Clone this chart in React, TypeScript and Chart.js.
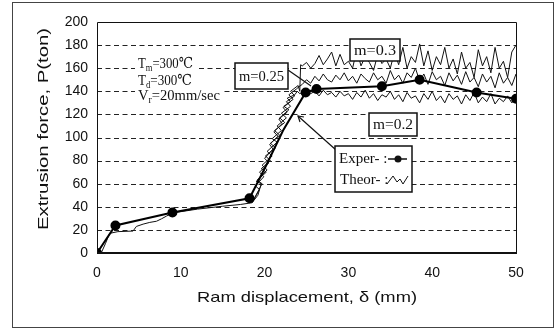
import React, { useEffect, useRef } from "react";
import { Chart, registerables } from "chart.js";

Chart.register(...registerables);

// ---------- data ----------
const yTickValues = [0, 20, 40, 60, 80, 100, 120, 140, 160, 180, 200];
const xTickValues = [0, 10, 20, 30, 40, 50];

const experX = [0, 2.2, 9.0, 18.2, 20.2, 22.2, 24.9, 26.2, 34.0, 38.5, 45.3, 50.0];
const experY = [0, 23.8, 35, 47.4, 76, 106, 139, 142, 144.4, 150, 139, 133.5];
const experMarker = [1, 1, 1, 1, 0, 0, 1, 1, 1, 1, 1, 1];

const theorBaseX = [0.5, 1.0, 1.5, 2.5, 4.3, 4.7, 5.5, 6.3, 7.1, 7.7, 8.3, 9.1, 12, 15, 17.1, 18.5];
const theorBaseY = [0, 8, 17, 18.5, 19, 23, 25, 26.5, 27.5, 29.6, 32, 34.8, 38, 40.5, 42, 43.5];

const m02RiseX = [18.5, 19.4, 18.9, 19.9, 19.4, 20.5, 20.0, 21.0, 20.6, 21.6, 21.1, 22.1, 21.7, 22.7, 22.2, 23.1, 22.7, 23.6, 23.9, 24.2];
const m02RiseY = [43.5, 55, 58, 66, 70, 78, 82, 90, 94, 101, 105, 112, 116, 122, 126, 131, 134, 137, 140, 138];
const m025RiseX = [18.5, 19.2, 19.6, 19.0, 20.2, 19.6, 20.7, 20.1, 21.3, 20.7, 21.8, 21.2, 22.4, 21.8, 22.9, 22.3, 23.4, 22.9, 23.8, 24.1];
const m025RiseY = [43.5, 50, 60, 62, 70, 73, 80, 84, 91, 95, 102, 106, 113, 117, 124, 127, 133, 137, 142, 144];
const m03RiseX = [18.5, 19.7, 19.1, 20.3, 19.7, 20.9, 20.3, 21.5, 20.9, 22.0, 21.5, 22.6, 22.0, 23.1, 22.6, 23.6, 23.1, 24.0, 24.2, 24.3];
const m03RiseY = [43.5, 60, 63, 72, 76, 84, 88, 96, 99, 106, 110, 117, 121, 127, 131, 136, 140, 145, 140, 163];

const noiseX = [24.5, 25, 25.5, 26, 26.5, 27, 27.5, 28, 28.5, 29, 29.5, 30, 30.5, 31, 31.5, 32, 32.5, 33, 33.5, 34, 34.5, 35, 35.5, 36, 36.5, 37, 37.5, 38, 38.5, 39, 39.5, 40, 40.5, 41, 41.5, 42, 42.5, 43, 43.5, 44, 44.5, 45, 45.5, 46, 46.5, 47, 47.5, 48, 48.5, 49, 49.5, 50];
const m03Y = [162, 165, 160, 164, 171, 163, 168, 174, 162, 172, 163, 166, 160, 176, 162, 170, 165, 158, 172, 164, 168, 160, 174, 163, 178, 160, 170, 165, 181, 162, 175, 158, 170, 163, 178, 160, 168, 155, 174, 160, 165, 152, 176, 162, 170, 156, 178, 160, 166, 152, 174, 180];
const m025Y = [146, 150, 147, 153, 149, 155, 150, 148, 154, 150, 156, 149, 153, 147, 155, 151, 148, 156, 150, 153, 147, 158, 150, 154, 147, 156, 152, 160, 149, 155, 146, 157, 150, 153, 145, 156, 149, 154, 146, 157, 148, 152, 144, 155, 148, 153, 143, 156, 147, 152, 145, 155];
const m02Y = [139, 141, 138, 140, 136, 141, 137, 139, 135, 140, 136, 138, 133, 139, 135, 141, 134, 138, 132, 137, 135, 140, 133, 137, 131, 139, 134, 136, 130, 138, 133, 140, 132, 136, 130, 138, 133, 136, 129, 137, 132, 139, 130, 135, 131, 138, 129, 134, 131, 136, 130, 134];

const annotationLines = [
  { main: "T", sub: "m", rest: "=300℃" },
  { main: "T", sub: "d", rest: "=300℃" },
  { main: "V", sub: "r", rest: "=20mm/sec" },
];
const curveLabels = ["m=0.25", "m=0.3", "m=0.2"];
const legendLabels = ["Exper- :", "Theor- :"];
const yTitle = "Extrusion force, P(ton)";
const xTitle = "Ram displacement, δ (mm)";

// ---------- helpers ----------
const pts = (xs: number[], ys: number[]) => xs.map((x, i) => ({ x, y: ys[i] }));
const SANS = "'Liberation Sans', Arial, sans-serif";
const SERIF = "'Liberation Serif', 'Times New Roman', 'DejaVu Serif', serif";

function fitText(ctx: CanvasRenderingContext2D, text: string, cx: number, cy: number, w: number, font: string) {
  ctx.save();
  ctx.font = font;
  ctx.textAlign = "center";
  ctx.textBaseline = "middle";
  const m = ctx.measureText(text).width;
  ctx.translate(cx, cy);
  ctx.scale(w / m, 1);
  ctx.fillText(text, 0, 0);
  ctx.restore();
}

function drawSubText(ctx: CanvasRenderingContext2D, line: { main: string; sub: string; rest: string }, x: number, baseline: number, w: number) {
  ctx.save();
  const f1 = `15px ${SERIF}`;
  const f2 = `10px ${SERIF}`;
  ctx.font = f1;
  const w1 = ctx.measureText(line.main).width;
  const w3 = ctx.measureText(line.rest).width;
  ctx.font = f2;
  const w2 = ctx.measureText(line.sub).width;
  const total = w1 + w2 + w3;
  const s = w / total;
  ctx.fillStyle = "#fff";
  ctx.fillRect(x - 3, baseline - 12, w + 6, 16);
  ctx.translate(x, baseline);
  ctx.scale(s, 1);
  ctx.fillStyle = "#111";
  ctx.textBaseline = "alphabetic";
  ctx.textAlign = "left";
  ctx.font = f1;
  ctx.fillText(line.main, 0, 0);
  ctx.font = f2;
  ctx.fillText(line.sub, w1, 3);
  ctx.font = f1;
  ctx.fillText(line.rest, w1 + w2, 0);
  ctx.restore();
}

function boxLabel(ctx: CanvasRenderingContext2D, text: string, x0: number, y0: number, x1: number, y1: number) {
  ctx.save();
  ctx.fillStyle = "#fff";
  ctx.fillRect(x0, y0, x1 - x0, y1 - y0);
  ctx.strokeStyle = "#111";
  ctx.lineWidth = 1.5;
  ctx.strokeRect(x0, y0, x1 - x0, y1 - y0);
  ctx.fillStyle = "#111";
  fitText(ctx, text, (x0 + x1) / 2, (y0 + y1) / 2 + 1, x1 - x0 - 8, `15px ${SERIF}`);
  ctx.restore();
}

const decorPlugin = {
  id: "decor",
  beforeDatasetsDraw(chart: any) {
    const { ctx, chartArea: a, scales } = chart;
    const ys = scales.y;
    ctx.save();
    // outer frame
    ctx.strokeStyle = "#444";
    ctx.lineWidth = 1;
    ctx.strokeRect(12.5, 2.5, 541, 325);
    // dashed grid
    ctx.strokeStyle = "#222";
    ctx.setLineDash([5, 3.5]);
    yTickValues.forEach((v) => {
      if (v === 0 || v === 200) return;
      const y = Math.round(ys.getPixelForValue(v)) + 0.5;
      ctx.beginPath();
      ctx.moveTo(a.left, y);
      ctx.lineTo(a.right, y);
      ctx.stroke();
    });
    ctx.setLineDash([]);
    // annotation texts
    drawSubText(ctx, annotationLines[0], 138, 68, 55);
    drawSubText(ctx, annotationLines[1], 138, 85, 54);
    drawSubText(ctx, annotationLines[2], 138, 100, 82);
    ctx.restore();
  },
  afterDatasetsDraw(chart: any) {
    const { ctx, chartArea: a } = chart;
    ctx.save();
    // plot box
    ctx.strokeStyle = "#111";
    ctx.lineWidth = 1;
    ctx.beginPath();
    ctx.moveTo(Math.round(a.left) + 0.5, Math.round(a.bottom));
    ctx.lineTo(Math.round(a.left) + 0.5, Math.round(a.top) + 0.5);
    ctx.lineTo(Math.round(a.right) + 0.5, Math.round(a.top) + 0.5);
    ctx.lineTo(Math.round(a.right) + 0.5, Math.round(a.bottom));
    ctx.stroke();
    ctx.lineWidth = 2;
    ctx.beginPath();
    ctx.moveTo(a.left, Math.round(a.bottom));
    ctx.lineTo(a.right + 1, Math.round(a.bottom));
    ctx.stroke();

    // leader lines
    ctx.lineWidth = 1.2;
    ctx.beginPath();
    ctx.moveTo(288, 70);
    ctx.lineTo(311, 86);
    ctx.stroke();
    ctx.beginPath();
    ctx.moveTo(336, 150);
    ctx.lineTo(298, 116);
    ctx.stroke();
    // arrow head
    ctx.beginPath();
    ctx.moveTo(304, 117);
    ctx.lineTo(298, 116);
    ctx.lineTo(300, 122);
    ctx.stroke();

    // boxes
    boxLabel(ctx, curveLabels[0], 235, 63, 288, 89);
    boxLabel(ctx, curveLabels[1], 350, 39, 400, 61);
    boxLabel(ctx, curveLabels[2], 369, 113, 417, 136);

    // legend
    ctx.fillStyle = "#fff";
    ctx.fillRect(335, 146, 77, 46);
    ctx.strokeStyle = "#111";
    ctx.lineWidth = 1.5;
    ctx.strokeRect(335, 146, 77, 46);
    ctx.fillStyle = "#111";
    ctx.font = `15px ${SERIF}`;
    ctx.textBaseline = "middle";
    ctx.textAlign = "left";
    ctx.fillText(legendLabels[0], 339, 159);
    ctx.fillText(legendLabels[1], 340, 180);
    ctx.lineWidth = 1.5;
    ctx.beginPath();
    ctx.moveTo(388, 159);
    ctx.lineTo(407, 159);
    ctx.stroke();
    ctx.beginPath();
    ctx.arc(398, 159, 3.5, 0, Math.PI * 2);
    ctx.fill();
    ctx.lineWidth = 1;
    ctx.beginPath();
    ctx.moveTo(387, 184);
    ctx.lineTo(393, 176);
    ctx.lineTo(397, 182);
    ctx.lineTo(400, 179);
    ctx.lineTo(403, 184);
    ctx.lineTo(408, 176);
    ctx.stroke();

    // axis titles
    ctx.fillStyle = "#111";
    fitText(ctx, xTitle, 307, 298, 220, `15px ${SANS}`);
    ctx.save();
    ctx.translate(44, 129);
    ctx.rotate(-Math.PI / 2);
    fitText(ctx, yTitle, 0, 0, 202, `15px ${SANS}`);
    ctx.restore();
    ctx.restore();
  },
};

export default function App() {
  const ref = useRef<HTMLCanvasElement | null>(null);
  useEffect(() => {
    if (!ref.current) return;
    const thin = { showLine: true, pointRadius: 0, borderColor: "#111", borderWidth: 1, backgroundColor: "#111", tension: 0 };
    const chart = new Chart(ref.current, {
      type: "scatter",
      data: {
        datasets: [
          {
            label: "Exper",
            data: pts(experX, experY),
            showLine: true,
            borderColor: "#000",
            borderWidth: 2,
            backgroundColor: "#000",
            pointBackgroundColor: "#000",
            pointBorderColor: "#000",
            pointRadius: experMarker.map((m) => (m ? 4 : 0)),
            tension: 0,
          },
          { label: "Theor base", data: pts(theorBaseX, theorBaseY), ...thin },
          { label: "m=0.2", data: pts(m02RiseX, m02RiseY).concat(pts(noiseX, m02Y)), ...thin },
          { label: "m=0.25", data: pts(m025RiseX, m025RiseY).concat(pts(noiseX, m025Y)), ...thin },
          { label: "m=0.3", data: pts(m03RiseX, m03RiseY).concat(pts(noiseX, m03Y)), ...thin },
        ],
      },
      options: {
        animation: false,
        responsive: false,
        devicePixelRatio: 1,
        layout: { padding: { left: 0, right: 43, top: 22, bottom: 0 } },
        plugins: { legend: { display: false }, tooltip: { enabled: false } },
        scales: {
          x: {
            type: "linear",
            min: 0,
            max: 50,
            afterFit: (s: any) => { s.height = 76; },
            afterBuildTicks: (s: any) => { s.ticks = xTickValues.map((v) => ({ value: v })); },
            grid: { display: false, drawTicks: false },
            border: { display: false },
            ticks: { padding: 12, color: "#111", font: { family: SANS, size: 14 } },
          },
          y: {
            type: "linear",
            min: 0,
            max: 200,
            afterFit: (s: any) => { s.width = 97; },
            afterBuildTicks: (s: any) => { s.ticks = yTickValues.map((v) => ({ value: v })); },
            grid: { display: false, drawTicks: false },
            border: { display: false },
            ticks: { padding: 9, color: "#111", font: { family: SANS, size: 14 } },
          },
        },
      },
      plugins: [decorPlugin],
    } as any);
    return () => chart.destroy();
  }, []);
  return (
    <div style={{ position: "fixed", left: 0, top: 0, width: 559, height: 329, background: "#fff" }}>
      <canvas ref={ref} width={559} height={329} style={{ width: 559, height: 329, display: "block" }} />
    </div>
  );
}
